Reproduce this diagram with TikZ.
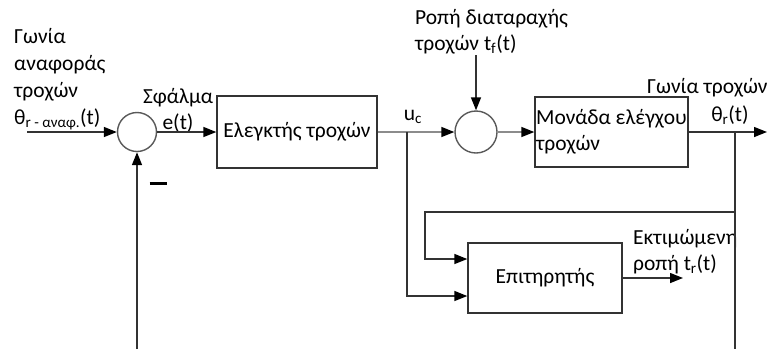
\documentclass[tikz,border=0pt]{standalone}
\usepackage{fontspec}
\setmainfont{Carlito}
\usetikzlibrary{arrows.meta}

\begin{document}
\begin{tikzpicture}[x=1pt, y=-1pt,
  font=\fontsize{21.5}{26}\selectfont,
  wire/.style={draw=black!80, line width=1.4pt},
  feed/.style={wire, -{Triangle[length=13pt, width=10pt, color=black]}},
  greyfeed/.style={feed, draw=black!45},
  block/.style={draw=black!80, line width=1.4pt, inner sep=1pt},
  junction/.style={circle, draw=black!65, line width=1.4pt, inner sep=0},
  lbl/.style={inner sep=0, align=left}]
\useasboundingbox (0,0) rectangle (767,349);
\def\summer{node [junction] }

\node [block, minimum width=160, minimum height=72] (ctrl) at (297,132) {Ελεγκτής τροχών};
\node [block, minimum width=153, minimum height=70, align=left, inner sep=0] (plant) at (611.5,132) {Μονάδα ελέγχου\\τροχών};
\node [block, minimum width=154, minimum height=70] (obs) at (545,278) {Επιτηρητής};
\draw (137,132) \summer [minimum size=39] (s1) {};
\draw (476,132) \summer [minimum size=42] (s2) {};

\node [lbl, anchor=west, font=\fontsize{21.5}{27}\selectfont] (ref) at (14,79) {Γωνία\\αναφοράς\\τροχών\\θ\textsubscript{r - αναφ.}(t)};
\node [lbl, align=center] (err) at (178,110) {Σφάλμα\\e(t)};
\node [lbl] (uc) at (413,117) {u\textsubscript{c}};
\node [lbl, anchor=west] (dist) at (415,32) {Ροπή διαταραχής\\τροχών t\textsubscript{f}(t)};
\node [lbl, anchor=west] (ang) at (647,88) {Γωνία τροχών};
\node [lbl] (th) at (730,115) {θ\textsubscript{r}(t)};
\node [lbl, anchor=west] (est) at (633,252) {Εκτιμώμενη\\ροπή t\textsubscript{r}(t)};
\node [inner sep=0] (minus) at (158,183) {\rule{17pt}{3pt}};

\coordinate (in) at (27,132);
\coordinate (din) at (476,55);
\coordinate (out) at (767,132);
\coordinate (ucTap) at (407,132);
\coordinate (thTap) at (735,132);
\coordinate (obsTap) at (735,212);
\coordinate (obsBend) at (425,212);
\coordinate (fbEnd) at (137,349);
\coordinate (thEnd) at (735,349);
\coordinate (estOut) at (683,278);

\draw [feed] (in) -- (s1.west);
\draw [feed] (s1.east) -- (ctrl.west);
\draw [greyfeed] (ctrl.east) -- (s2.west);
\draw [feed] (din) -- (s2.north);
\draw [greyfeed] (s2.east) -- (plant.west);
\draw [feed] (plant.east) -- (out);
\draw [feed] (fbEnd) -- (s1.south);
\draw [wire] (thTap) -- (thEnd);
\draw [feed] (obsTap) -- (obsBend) |- ([yshift=19pt]obs.west);
\draw [feed] (ucTap) |- ([yshift=-18pt]obs.west);
\draw [feed] (obs.east) -- (estOut);
\end{tikzpicture}
\end{document}
